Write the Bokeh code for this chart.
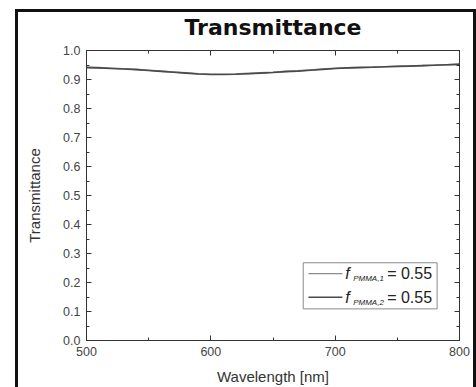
from bokeh.plotting import figure
from bokeh.models import Range1d, LinearAxis, SingleIntervalTicker, PrintfTickFormatter
from bokeh.embed import file_html
from bokeh.resources import INLINE
from bokeh.core.properties import value

# ---- data ----
wavelength = [500, 510, 520, 530, 540, 550, 560, 570, 580, 590, 600,
              610, 620, 630, 640, 650, 660, 670, 680, 690, 700,
              710, 720, 730, 740, 750, 760, 770, 780, 790, 800]
t_pmma1 = [0.942, 0.941, 0.939, 0.937, 0.935, 0.932, 0.929, 0.926, 0.923, 0.920, 0.918,
           0.918, 0.919, 0.921, 0.923, 0.925, 0.928, 0.930, 0.933, 0.936, 0.939,
           0.940, 0.942, 0.943, 0.944, 0.946, 0.947, 0.948, 0.950, 0.951, 0.953]
t_pmma2 = [0.941, 0.940, 0.938, 0.936, 0.934, 0.931, 0.928, 0.925, 0.922, 0.919, 0.917,
           0.917, 0.918, 0.920, 0.922, 0.924, 0.927, 0.929, 0.932, 0.935, 0.938,
           0.940, 0.941, 0.942, 0.944, 0.945, 0.946, 0.948, 0.949, 0.951, 0.952]
legend_subscripts = ["PMMA,1", "PMMA,2"]
legend_values = ["= 0.55", "= 0.55"]
series_colors = ["#8a8a8a", "#4a4a4a"]

X0, X1 = 500, 800
Y0, Y1 = 0.0, 1.0

# canvas 455 x 375 placed at (18, 12); black 3px page frame drawn as a CSS outline
p = figure(width=455, height=375, output_backend="svg", toolbar_location=None,
           x_range=Range1d(X0, X1), y_range=Range1d(Y0, Y1),
           min_border_left=68, min_border_right=14, min_border_top=37, min_border_bottom=43,
           title="Transmittance")
p.styles = {"margin-left": "18px", "margin-top": "12px",
            "outline": "3px solid #111111"}
p.background_fill_color = "white"
p.border_fill_color = "white"
p.outline_line_color = "#333333"
p.outline_line_width = 1
p.grid.visible = False

p.title.align = "center"
p.title.text_font = "DejaVu Sans"
p.title.text_font_style = "bold"
p.title.text_font_size = "22px"
p.title.text_color = "#111111"
p.title.standoff = 0

FONT = "Liberation Sans"

def style_axis(ax, show_labels):
    ax.axis_line_color = "#333333"
    ax.major_tick_line_color = "#333333"
    ax.minor_tick_line_color = "#333333"
    ax.major_tick_in = 5
    ax.major_tick_out = 0
    ax.minor_tick_in = 3
    ax.minor_tick_out = 0
    ax.major_label_text_font = FONT
    if show_labels:
        ax.major_label_text_font_size = "12.5px"
        ax.major_label_text_color = "#444444"
    else:
        ax.major_label_text_font_size = "0px"
        ax.major_label_text_color = None
        ax.major_label_standoff = 0
    ax.axis_label_text_font = FONT
    ax.axis_label_text_font_size = "15px"
    ax.axis_label_text_font_style = "normal"
    ax.axis_label_text_color = "#333333"

xt = SingleIntervalTicker(interval=100, num_minor_ticks=2)
yt = SingleIntervalTicker(interval=0.1, num_minor_ticks=2)

p.xaxis.ticker = xt
p.yaxis.ticker = yt
p.yaxis.formatter = PrintfTickFormatter(format="%.1f")
p.xaxis.axis_label = "Wavelength [nm]"
p.yaxis.axis_label = "Transmittance"
style_axis(p.xaxis[0], True)
style_axis(p.yaxis[0], True)
p.xaxis.major_label_standoff = 6
p.yaxis.major_label_standoff = 6
p.xaxis.axis_label_standoff = 9
p.yaxis.axis_label_standoff = 17

top = LinearAxis(ticker=xt)
right = LinearAxis(ticker=yt)
style_axis(top, False)
style_axis(right, False)
p.add_layout(top, "above")
p.add_layout(right, "right")

# invisible spacer panel between the frame and the title
spacer = LinearAxis(ticker=xt)
style_axis(spacer, False)
spacer.axis_line_color = None
spacer.major_tick_line_color = None
spacer.minor_tick_line_color = None
spacer.major_tick_in = 0
spacer.major_tick_out = 11
spacer.minor_tick_in = 0
spacer.minor_tick_out = 0
p.add_layout(spacer, "above")

p.line(wavelength, t_pmma1, line_color=series_colors[0], line_width=1.6)
p.line(wavelength, t_pmma2, line_color=series_colors[1], line_width=1.6)

# ---- manual legend (subscripted labels), positioned in frame fractions ----
def fx(f):
    return X0 + f * (X1 - X0)

def fy(f):
    return Y0 + f * (Y1 - Y0)

p.quad(left=[fx(0.581)], right=[fx(0.940)], bottom=[fy(0.109)], top=[fy(0.268)],
       fill_color="white", line_color="#8a8a8a", line_width=1)
row_y = [fy(0.2305), fy(0.149)]
p.segment(x0=[fx(0.595)] * 2, y0=row_y, x1=[fx(0.686)] * 2, y1=row_y,
          line_color=series_colors, line_width=1.4)
p.text(x=[fx(0.694)] * 2, y=row_y, text=["f", "f"],
       text_font=value(FONT), text_font_style="italic", text_font_size="16px",
       text_color="#222222", text_align="left", text_baseline="middle")
p.text(x=[fx(0.715)] * 2, y=[v - 0.017 for v in row_y], text=legend_subscripts,
       text_font=value(FONT), text_font_style="italic", text_font_size="8px",
       text_color="#222222", text_align="left", text_baseline="middle")
p.text(x=[fx(0.806)] * 2, y=row_y, text=legend_values,
       text_font=value(FONT), text_font_size="16px",
       text_color="#222222", text_align="left", text_baseline="middle")

open("out.html", "w").write(file_html(p, INLINE))
